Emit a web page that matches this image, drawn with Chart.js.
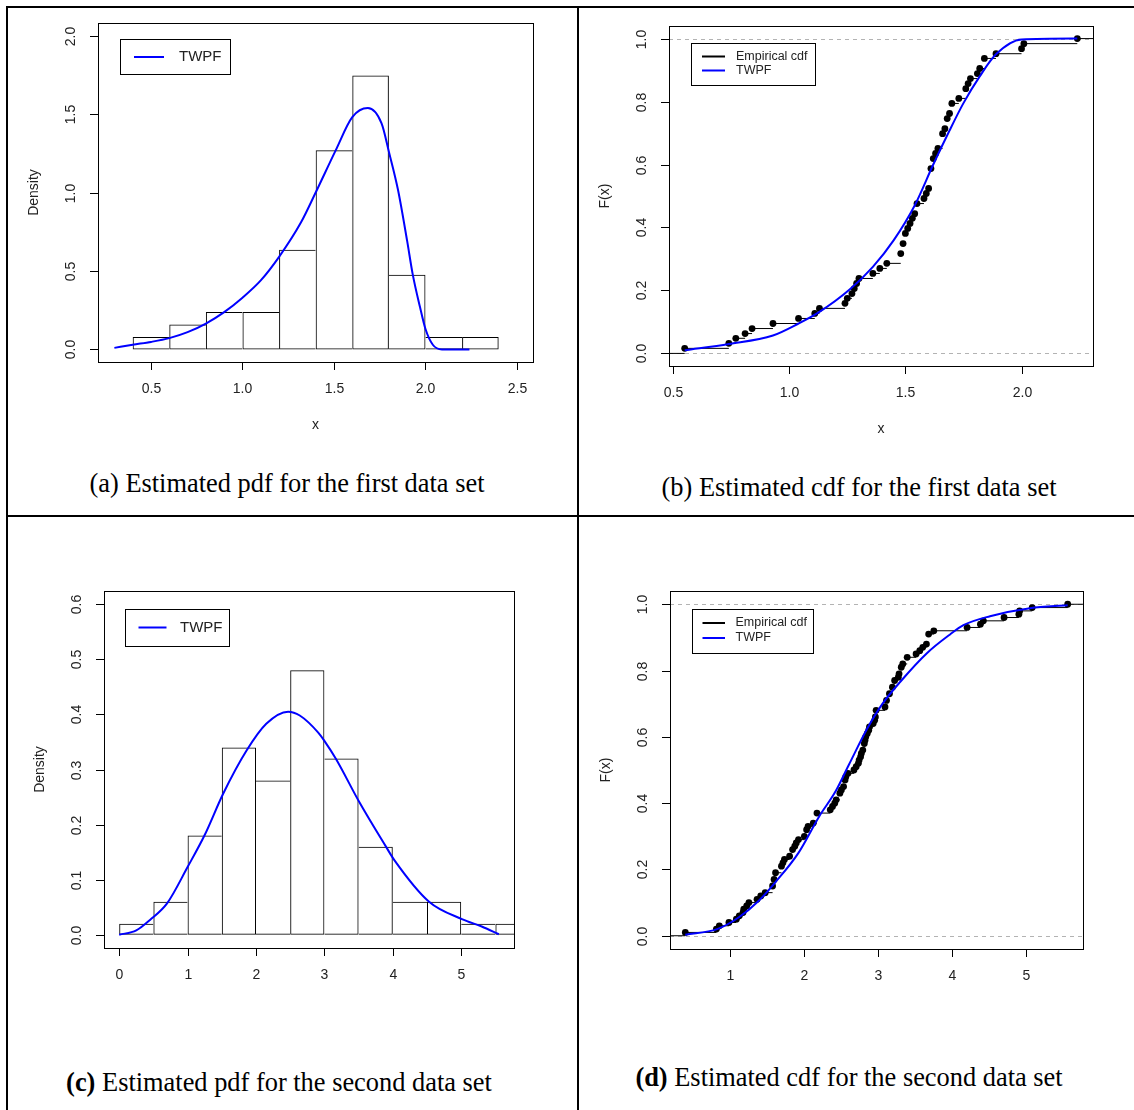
<!DOCTYPE html>
<html>
<head>
<meta charset="utf-8">
<title>TWPF fits</title>
<script src="https://cdn.jsdelivr.net/npm/chart.js@4.4.1/dist/chart.umd.min.js"></script>
<style>
  body { margin: 0; background: #fff; }
  #page { position: relative; width: 1134px; height: 1110px; overflow: hidden; background: #fff; }
  #page canvas { position: absolute; }
  .rule { position: absolute; background: #000; }
  .cap {
    position: absolute; white-space: nowrap; color: #000;
    font-family: "Liberation Serif", "Times New Roman", serif; font-size: 26.4px;
    transform: translate(-50%, -50%);
  }
</style>
</head>
<body>
<div id="page">
  <canvas id="pdf1" width="578" height="450" style="left:0;top:0"></canvas>
  <canvas id="cdf1" width="556" height="450" style="left:578px;top:0"></canvas>
  <canvas id="pdf2" width="578" height="480" style="left:0;top:520px"></canvas>
  <canvas id="cdf2" width="556" height="480" style="left:578px;top:520px"></canvas>

  <div class="rule" style="left:6px;top:6px;width:1128px;height:2px"></div>
  <div class="rule" style="left:6px;top:6px;width:2px;height:1104px"></div>
  <div class="rule" style="left:577px;top:6px;width:2px;height:1104px"></div>
  <div class="rule" style="left:6px;top:515px;width:1128px;height:2px"></div>

  <div class="cap" style="left:287px;top:483px">(a) Estimated pdf for the first data set</div>
  <div class="cap" style="left:859px;top:487px">(b) Estimated cdf for the first data set</div>
  <div class="cap" style="left:279px;top:1082px"><b>(c)</b> Estimated pdf for the second data set</div>
  <div class="cap" style="left:849px;top:1077px"><b>(d)</b> Estimated cdf for the second data set</div>
</div>
<script>
// ---- first data set ----
const binMid1 = [0.5, 0.7, 0.9, 1.1, 1.3, 1.5, 1.7, 1.9, 2.1, 2.3];
const density1 = [0.079, 0.159, 0.238, 0.238, 0.635, 1.270, 1.746, 0.476, 0.079, 0.079];

const pdfX1 = [0.30, 0.40, 0.50, 0.60, 0.70, 0.80, 0.90, 1.00, 1.10, 1.20, 1.32, 1.40, 1.51, 1.60, 1.685, 1.76, 1.80, 1.85, 1.90, 1.93, 1.97, 2.00, 2.04, 2.09, 2.24];
const pdfY1 = [0.01, 0.03, 0.048, 0.072, 0.11, 0.165, 0.238, 0.33, 0.44, 0.59, 0.81, 1.0, 1.27, 1.48, 1.538, 1.44, 1.26, 1.016, 0.69, 0.48, 0.27, 0.13, 0.03, 0.0, 0.0];

const ecdfX1 = [0.55, 0.74, 0.77, 0.81, 0.84, 0.93, 1.04, 1.11, 1.13, 1.24, 1.25, 1.27, 1.28, 1.29, 1.30, 1.36, 1.39, 1.42, 1.48, 1.49,
  1.50, 1.51, 1.52, 1.53, 1.54, 1.55, 1.58, 1.59, 1.60, 1.61, 1.62, 1.63, 1.64, 1.66, 1.67, 1.68, 1.69, 1.70, 1.73, 1.76,
  1.77, 1.78, 1.81, 1.82, 1.84, 1.89, 2.00, 2.01, 2.24];
const ecdfY1 = [0.016, 0.032, 0.048, 0.063, 0.079, 0.095, 0.111, 0.127, 0.143, 0.159, 0.175, 0.190, 0.206, 0.222, 0.238, 0.254, 0.270, 0.286, 0.317, 0.349,
  0.381, 0.397, 0.413, 0.429, 0.444, 0.476, 0.492, 0.508, 0.524, 0.587, 0.619, 0.635, 0.651, 0.698, 0.714, 0.746, 0.762, 0.794, 0.810, 0.841,
  0.857, 0.873, 0.889, 0.905, 0.937, 0.952, 0.968, 0.984, 1.000];

const cdfX1 = [0.55, 0.74, 0.93, 1.04, 1.13, 1.26, 1.36, 1.45, 1.54, 1.62, 1.69, 1.75, 1.82, 1.89, 2.00, 2.24];
const cdfY1 = [0.01, 0.03, 0.057, 0.095, 0.132, 0.203, 0.275, 0.36, 0.47, 0.60, 0.708, 0.795, 0.88, 0.95, 0.997, 1.0];

// ---- second data set ----
const binMid2 = [0.25, 0.75, 1.25, 1.75, 2.25, 2.75, 3.25, 3.75, 4.25, 4.75, 5.25, 5.75];
const density2 = [0.02, 0.06, 0.18, 0.34, 0.28, 0.48, 0.32, 0.16, 0.06, 0.06, 0.02, 0.02];

const pdfX2 = [0.0, 0.25, 0.45, 0.70, 1.00, 1.25, 1.52, 1.86, 2.15, 2.47, 2.64, 2.91, 3.00, 3.17, 3.51, 3.90, 4.02, 4.53, 5.02, 5.30, 5.55];
const pdfY2 = [0.0, 0.008, 0.027, 0.057, 0.123, 0.181, 0.256, 0.334, 0.383, 0.405, 0.398, 0.367, 0.352, 0.319, 0.241, 0.16, 0.136, 0.06, 0.028, 0.015, 0.001];

const ecdfX2 = [0.39, 0.81, 0.85, 0.98, 1.08, 1.12, 1.17, 1.18, 1.22, 1.25, 1.36, 1.41, 1.47, 1.57, 1.59, 1.61, 1.69, 1.71, 1.73, 1.80,
  1.84, 1.87, 1.89, 1.92, 2.00, 2.03, 2.05, 2.12, 2.17, 2.35, 2.38, 2.41, 2.43, 2.48, 2.50, 2.53, 2.55, 2.56, 2.59, 2.67,
  2.70, 2.73, 2.74, 2.76, 2.77, 2.79, 2.81, 2.82, 2.83, 2.85, 2.87, 2.88, 2.93, 2.95, 2.96, 2.97, 3.09, 3.11, 3.15, 3.19,
  3.22, 3.27, 3.28, 3.31, 3.33, 3.39, 3.51, 3.56, 3.60, 3.65, 3.68, 3.75, 4.20, 4.38, 4.42, 4.70, 4.90, 4.91, 5.08, 5.56];
const ecdfY2 = [0.01, 0.02, 0.03, 0.04, 0.05, 0.06, 0.07, 0.08, 0.09, 0.10, 0.11, 0.12, 0.13, 0.15, 0.17, 0.19, 0.21, 0.22, 0.23, 0.24,
  0.26, 0.27, 0.28, 0.29, 0.30, 0.32, 0.33, 0.34, 0.37, 0.38, 0.39, 0.40, 0.41, 0.43, 0.44, 0.45, 0.47, 0.48, 0.49, 0.50,
  0.51, 0.52, 0.53, 0.54, 0.55, 0.56, 0.58, 0.59, 0.60, 0.61, 0.62, 0.63, 0.64, 0.65, 0.66, 0.68, 0.69, 0.71, 0.73, 0.75,
  0.77, 0.78, 0.79, 0.81, 0.82, 0.84, 0.85, 0.86, 0.87, 0.88, 0.91, 0.92, 0.93, 0.94, 0.95, 0.96, 0.97, 0.98, 0.99, 1.00];

const cdfX2 = [0.39, 0.82, 1.11, 1.38, 1.61, 1.92, 2.20, 2.42, 2.60, 2.85, 3.05, 3.30, 3.66, 3.97, 4.15, 4.51, 5.05, 5.56];
const cdfY2 = [0.003, 0.02, 0.055, 0.105, 0.162, 0.25, 0.36, 0.435, 0.515, 0.625, 0.698, 0.767, 0.853, 0.909, 0.937, 0.964, 0.988, 0.997];

// ---- axes ----
const xLim1 = [0.2105, 2.5875], yLim1 = [-0.08, 2.08];
const xLimB = [0.4824, 2.3076], yLimB = [-0.04, 1.04];
const xLim2 = [-0.222, 5.772], yLim2 = [-0.024, 0.624];
const xLimD = [0.183, 5.767], yLimD = [-0.04, 1.04];

const xTicks1 = [0.5, 1.0, 1.5, 2.0, 2.5], xTickLabels1 = ['0.5', '1.0', '1.5', '2.0', '2.5'];
const yTicks1 = [0, 0.5, 1.0, 1.5, 2.0], yTickLabels1 = ['0.0', '0.5', '1.0', '1.5', '2.0'];
const xTicksB = [0.5, 1.0, 1.5, 2.0], xTickLabelsB = ['0.5', '1.0', '1.5', '2.0'];
const yTicksCdf = [0, 0.2, 0.4, 0.6, 0.8, 1.0], yTickLabelsCdf = ['0.0', '0.2', '0.4', '0.6', '0.8', '1.0'];
const xTicks2 = [0, 1, 2, 3, 4, 5], xTickLabels2 = ['0', '1', '2', '3', '4', '5'];
const yTicks2 = [0, 0.1, 0.2, 0.3, 0.4, 0.5, 0.6], yTickLabels2 = ['0.0', '0.1', '0.2', '0.3', '0.4', '0.5', '0.6'];
const xTicksD = [1, 2, 3, 4, 5], xTickLabelsD = ['1', '2', '3', '4', '5'];

const BLUE = '#0000ff';
const SANS = '"Liberation Sans", Arial, sans-serif';

// R-like frame: box, outward ticks, rotated y labels, titles and legend
const rFrame = {
  id: 'rFrame',
  beforeDatasetsDraw(chart, args, o) {
    if (!o.refLines) return;
    const { ctx, chartArea: a, scales: { y } } = chart;
    ctx.save();
    ctx.strokeStyle = '#b3b3b3';
    ctx.lineWidth = 1;
    ctx.setLineDash([4, 4]);
    o.refLines.forEach(v => {
      const py = Math.round(y.getPixelForValue(v)) + 0.5;
      ctx.beginPath();
      ctx.moveTo(a.left, py);
      ctx.lineTo(a.right, py);
      ctx.stroke();
    });
    ctx.restore();
  },
  afterDraw(chart, args, o) {
    const { ctx, chartArea: a, scales: { x, y } } = chart;
    ctx.save();
    ctx.strokeStyle = '#000';
    ctx.lineWidth = 1;
    ctx.strokeRect(a.left + 0.5, a.top + 0.5, a.right - a.left, a.bottom - a.top);

    ctx.fillStyle = '#222';
    ctx.font = '14px ' + SANS;
    ctx.textAlign = 'center';
    ctx.textBaseline = 'middle';
    o.xTicks.forEach((v, i) => {
      const px = Math.round(x.getPixelForValue(v)) + 0.5;
      ctx.beginPath();
      ctx.moveTo(px, a.bottom);
      ctx.lineTo(px, a.bottom + 8);
      ctx.stroke();
      ctx.fillText(o.xLabels[i], px, a.bottom + 27);
    });
    o.yTicks.forEach((v, i) => {
      const py = Math.round(y.getPixelForValue(v)) + 0.5;
      ctx.beginPath();
      ctx.moveTo(a.left, py);
      ctx.lineTo(a.left - 8, py);
      ctx.stroke();
      ctx.save();
      ctx.translate(a.left - 27, py);
      ctx.rotate(-Math.PI / 2);
      ctx.fillText(o.yLabels[i], 0, 0);
      ctx.restore();
    });
    ctx.fillText(o.xTitle, (a.left + a.right) / 2, a.bottom + 63);
    ctx.save();
    ctx.translate(a.left - 64, (a.top + a.bottom) / 2);
    ctx.rotate(-Math.PI / 2);
    ctx.fillText(o.yTitle, 0, 0);
    ctx.restore();

    // legend box
    const L = o.legend;
    const bx = Math.round(a.left + L.x), by = Math.round(a.top + L.y);
    ctx.fillStyle = '#fff';
    ctx.fillRect(bx, by, L.w, L.h);
    ctx.strokeStyle = '#000';
    ctx.strokeRect(bx + 0.5, by + 0.5, L.w, L.h);
    ctx.font = L.font + ' ' + SANS;
    ctx.textAlign = 'left';
    L.items.forEach((it, i) => {
      const ly = by + L.rows[i];
      ctx.strokeStyle = it.color;
      ctx.lineWidth = 2;
      ctx.beginPath();
      ctx.moveTo(bx + L.line[0], ly);
      ctx.lineTo(bx + L.line[1], ly);
      ctx.stroke();
      ctx.fillStyle = '#222';
      ctx.fillText(it.text, bx + L.textX, ly);
    });
    ctx.restore();
  }
};

function pairs(xs, ys) {
  return xs.map((v, i) => ({ x: v, y: ys[i] }));
}

// horizontal pieces of the empirical cdf, no verticals
function ecdfSteps(xs, ys, lim) {
  const out = [{ x: lim[0], y: 0 }, { x: xs[0], y: 0 }, { x: xs[0], y: null }];
  xs.forEach((v, i) => {
    const next = i < xs.length - 1 ? xs[i + 1] : lim[1];
    out.push({ x: v, y: ys[i] }, { x: next, y: ys[i] }, { x: next, y: null });
  });
  return out;
}

// each shared bin edge is drawn once, by the taller neighbour
function binEdges(dens) {
  const n = dens.length;
  return c => {
    const i = c.dataIndex, h = dens[i];
    const left = (i === 0 || dens[i - 1] <= h) ? 1 : 0;
    const right = (i === n - 1 || dens[i + 1] < h) ? 1 : 0;
    return { top: 1, bottom: 1, left, right };
  };
}

function histChart(id, mids, dens, xs, ys, xl, yl, pad, frame) {
  return new Chart(document.getElementById(id), {
    type: 'bar',
    data: {
      datasets: [
        {
          type: 'line', label: 'TWPF', data: pairs(xs, ys),
          borderColor: BLUE, borderWidth: 2, pointRadius: 0,
          cubicInterpolationMode: 'monotone', order: 0
        },
        {
          type: 'bar', label: 'Histogram', data: pairs(mids, dens),
          backgroundColor: 'rgba(0,0,0,0)', borderColor: '#000',
          borderWidth: binEdges(dens),
          borderSkipped: false, barPercentage: 1, categoryPercentage: 1,
          inflateAmount: 0, clip: 0, order: 1
        }
      ]
    },
    options: {
      responsive: false, animation: false,
      layout: { padding: pad },
      scales: {
        x: {
          type: 'linear', min: xl[0], max: xl[1], offset: false, display: false,
          afterBuildTicks: s => { s.ticks = frame.xTicks.map(v => ({ value: v })); }
        },
        y: { type: 'linear', min: yl[0], max: yl[1], display: false }
      },
      plugins: { legend: { display: false }, tooltip: { enabled: false }, rFrame: frame }
    },
    plugins: [rFrame]
  });
}

function cdfChart(id, ex, ey, xs, ys, xl, yl, pad, frame) {
  return new Chart(document.getElementById(id), {
    type: 'line',
    data: {
      datasets: [
        {
          label: 'TWPF', data: pairs(xs, ys),
          borderColor: BLUE, borderWidth: 2, pointRadius: 0,
          cubicInterpolationMode: 'monotone', order: 0
        },
        {
          label: 'Empirical cdf', data: pairs(ex, ey), showLine: false,
          pointRadius: 3.4, pointBorderWidth: 0, pointBackgroundColor: '#000', order: 1
        },
        {
          label: 'steps', data: ecdfSteps(ex, ey, xl), spanGaps: false,
          borderColor: '#000', borderWidth: 1, pointRadius: 0, order: 2
        }
      ]
    },
    options: {
      responsive: false, animation: false,
      layout: { padding: pad },
      scales: {
        x: { type: 'linear', min: xl[0], max: xl[1], display: false },
        y: { type: 'linear', min: yl[0], max: yl[1], display: false }
      },
      plugins: { legend: { display: false }, tooltip: { enabled: false }, rFrame: frame }
    },
    plugins: [rFrame]
  });
}

histChart('pdf1', binMid1, density1, pdfX1, pdfY1, xLim1, yLim1,
  { left: 98, top: 23, right: 45, bottom: 88 },
  {
    xTicks: xTicks1, xLabels: xTickLabels1, yTicks: yTicks1, yLabels: yTickLabels1,
    xTitle: 'x', yTitle: 'Density',
    legend: { x: 22, y: 16, w: 110, h: 35, line: [14, 44], textX: 59, rows: [18], font: '15px',
      items: [{ text: 'TWPF', color: BLUE }] }
  });

cdfChart('cdf1', ecdfX1, ecdfY1, cdfX1, cdfY1, xLimB, yLimB,
  { left: 91, top: 26, right: 41, bottom: 84 },
  {
    xTicks: xTicksB, xLabels: xTickLabelsB, yTicks: yTicksCdf, yLabels: yTickLabelsCdf,
    xTitle: 'x', yTitle: 'F(x)', refLines: [0, 1],
    legend: { x: 22, y: 17, w: 124, h: 42, line: [11, 34], textX: 45, rows: [13.5, 27.5], font: '12.5px',
      items: [{ text: 'Empirical cdf', color: '#000' }, { text: 'TWPF', color: BLUE }] }
  });

histChart('pdf2', binMid2, density2, pdfX2, pdfY2, xLim2, yLim2,
  { left: 104, top: 71, right: 64, bottom: 52 },
  {
    xTicks: xTicks2, xLabels: xTickLabels2, yTicks: yTicks2, yLabels: yTickLabels2,
    xTitle: 'x', yTitle: 'Density',
    legend: { x: 20.5, y: 17.5, w: 104, h: 37, line: [13.5, 41.5], textX: 55, rows: [18.5], font: '15px',
      items: [{ text: 'TWPF', color: BLUE }] }
  });

cdfChart('cdf2', ecdfX2, ecdfY2, cdfX2, cdfY2, xLimD, yLimD,
  { left: 92, top: 71, right: 51, bottom: 51 },
  {
    xTicks: xTicksD, xLabels: xTickLabelsD, yTicks: yTicksCdf, yLabels: yTickLabelsCdf,
    xTitle: 'x', yTitle: 'F(x)', refLines: [0, 1],
    legend: { x: 21.5, y: 17.5, w: 121, h: 44, line: [10.5, 33], textX: 43.5, rows: [14, 29], font: '12.5px',
      items: [{ text: 'Empirical cdf', color: '#000' }, { text: 'TWPF', color: BLUE }] }
  });
</script>
</body>
</html>
